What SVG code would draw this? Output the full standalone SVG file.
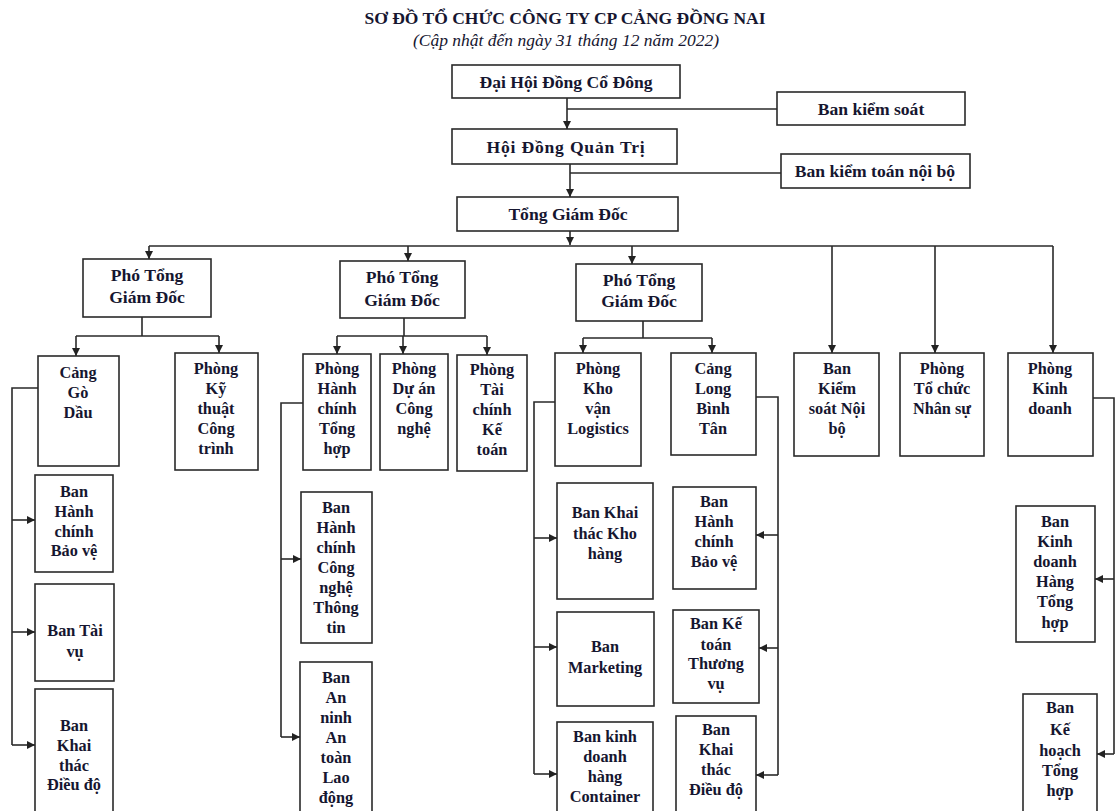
<svg xmlns="http://www.w3.org/2000/svg" width="1115" height="811" viewBox="0 0 1115 811">
<defs>
<marker id="ah" markerUnits="userSpaceOnUse" markerWidth="9" markerHeight="8" refX="8" refY="4" orient="auto">
<path d="M0,0 L8,4 L0,8 Z" fill="#222"/>
</marker>
<style>
.b{fill:#fff;stroke:#2a2a2a;stroke-width:1.6}
.t{font-family:"Liberation Serif","Times New Roman",serif;font-weight:bold;font-size:16.3px;fill:#161630;text-anchor:middle}
.L{font-size:17.6px}
.c{fill:none;stroke:#2a2a2a;stroke-width:1.6}
.a{marker-end:url(#ah)}
</style>
</defs>
<rect width="1115" height="811" fill="#fff"/>
<text x="565" y="24" font-family="Liberation Serif, serif" font-weight="bold" font-size="17.5" fill="#161630" text-anchor="middle">SƠ ĐỒ TỔ CHỨC CÔNG TY CP CẢNG ĐỒNG NAI</text>
<text x="566" y="46" font-family="Liberation Serif, serif" font-style="italic" font-size="17.5" fill="#161630" text-anchor="middle">(Cập nhật đến ngày 31 tháng 12 năm 2022)</text>

<g id="connectors">
<path class="c a" d="M567,98 V129"/>
<path class="c" d="M567,109 H777"/>
<path class="c a" d="M570,164 V197"/>
<path class="c" d="M570,173 H781"/>
<path class="c a" d="M570,231 V245"/>
<path class="c" d="M149,246 H1053"/>
<path class="c a" d="M149,246 V259"/>
<path class="c a" d="M408,246 V261"/>
<path class="c a" d="M632,246 V264"/>
<path class="c a" d="M832,246 V353"/>
<path class="c a" d="M935,246 V353"/>
<path class="c a" d="M1053,246 V353"/>
<path class="c" d="M142,317 V336 M76,336 H219"/>
<path class="c a" d="M76,336 V356"/>
<path class="c a" d="M219,336 V353"/>
<path class="c" d="M404,318 V336 M337,336 H487"/>
<path class="c a" d="M337,336 V354"/>
<path class="c a" d="M403,336 V354"/>
<path class="c a" d="M487,336 V355"/>
<path class="c" d="M643,321 V338 M583,338 H712"/>
<path class="c a" d="M583,338 V353"/>
<path class="c a" d="M712,338 V353"/>
<path class="c" d="M38,388 H12 V745"/>
<path class="c a" d="M12,520 H35"/>
<path class="c a" d="M12,632 H35"/>
<path class="c a" d="M12,745 H35"/>
<path class="c" d="M303,403 H281 V737"/>
<path class="c a" d="M281,559 H301"/>
<path class="c a" d="M281,737 H300"/>
<path class="c" d="M555,402 H534 V774"/>
<path class="c a" d="M534,538 H557"/>
<path class="c a" d="M534,647 H557"/>
<path class="c a" d="M534,774 H557"/>
<path class="c" d="M756,397 H778 V775"/>
<path class="c a" d="M778,535 H756"/>
<path class="c a" d="M778,648 H759"/>
<path class="c a" d="M778,775 H756"/>
<path class="c" d="M1093,398 H1114 V754"/>
<path class="c a" d="M1114,579 H1095"/>
<path class="c a" d="M1114,754 H1097"/>
</g>

<g id="dhdcd"><rect class="b" x="452" y="65" width="228" height="33"/><text class="t L" x="566" y="88">Đại Hội Đồng Cổ Đông</text></g>
<g id="bks"><rect class="b" x="777" y="92" width="188" height="33"/><text class="t L" x="871" y="115">Ban kiểm soát</text></g>
<g id="hdqt"><rect class="b" x="452" y="129" width="225" height="35"/><text class="t L" x="566" y="153" letter-spacing="0.8">Hội Đồng Quản Trị</text></g>
<g id="bktnb"><rect class="b" x="781" y="154" width="189" height="34"/><text class="t L" x="875" y="177">Ban kiểm toán nội bộ</text></g>
<g id="tgd"><rect class="b" x="457" y="197" width="221" height="34"/><text class="t L" x="568" y="220">Tổng Giám Đốc</text></g>

<g id="ptgd1"><rect class="b" x="83" y="259" width="128" height="58"/><text class="t L" x="147" y="281">Phó Tổng</text><text class="t L" x="147" y="303">Giám Đốc</text></g>
<g id="ptgd2"><rect class="b" x="340" y="261" width="125" height="57"/><text class="t L" x="402" y="283">Phó Tổng</text><text class="t L" x="402" y="306">Giám Đốc</text></g>
<g id="ptgd3"><rect class="b" x="576" y="264" width="126" height="57"/><text class="t L" x="639" y="286">Phó Tổng</text><text class="t L" x="639" y="307">Giám Đốc</text></g>

<g id="cang-go-dau"><rect class="b" x="38" y="356" width="81" height="110"/><text class="t" x="78" y="378">Cảng</text><text class="t" x="78" y="398">Gò</text><text class="t" x="78" y="418">Dầu</text></g>
<g id="phong-ky-thuat"><rect class="b" x="175" y="353" width="83" height="117"/><text class="t" x="216" y="374">Phòng</text><text class="t" x="216" y="394">Kỹ</text><text class="t" x="216" y="414">thuật</text><text class="t" x="216" y="434">Công</text><text class="t" x="216" y="454">trình</text></g>
<g id="phong-hcth"><rect class="b" x="303" y="354" width="68" height="116"/><text class="t" x="337" y="374">Phòng</text><text class="t" x="337" y="394">Hành</text><text class="t" x="337" y="414">chính</text><text class="t" x="337" y="434">Tổng</text><text class="t" x="337" y="454">hợp</text></g>
<g id="phong-du-an"><rect class="b" x="380" y="354" width="68" height="116"/><text class="t" x="414" y="374">Phòng</text><text class="t" x="414" y="394">Dự án</text><text class="t" x="414" y="414">Công</text><text class="t" x="414" y="434">nghệ</text></g>
<g id="phong-tckt"><rect class="b" x="457" y="355" width="70" height="116"/><text class="t" x="492" y="375">Phòng</text><text class="t" x="492" y="395">Tài</text><text class="t" x="492" y="415">chính</text><text class="t" x="492" y="435">Kế</text><text class="t" x="492" y="455">toán</text></g>
<g id="phong-kho-van"><rect class="b" x="555" y="353" width="86" height="113"/><text class="t" x="598" y="374">Phòng</text><text class="t" x="598" y="394">Kho</text><text class="t" x="598" y="414">vận</text><text class="t" x="598" y="434">Logistics</text></g>
<g id="cang-lbt"><rect class="b" x="671" y="353" width="85" height="102"/><text class="t" x="713" y="374">Cảng</text><text class="t" x="713" y="394">Long</text><text class="t" x="713" y="414">Bình</text><text class="t" x="713" y="434">Tân</text></g>
<g id="ban-ksnb"><rect class="b" x="794" y="353" width="85" height="103"/><text class="t" x="837" y="374">Ban</text><text class="t" x="837" y="394">Kiểm</text><text class="t" x="837" y="414">soát Nội</text><text class="t" x="837" y="434">bộ</text></g>
<g id="phong-tcns"><rect class="b" x="900" y="353" width="84" height="103"/><text class="t" x="942" y="374">Phòng</text><text class="t" x="942" y="394">Tổ chức</text><text class="t" x="942" y="414">Nhân sự</text></g>
<g id="phong-kd"><rect class="b" x="1008" y="353" width="85" height="103"/><text class="t" x="1050" y="374">Phòng</text><text class="t" x="1050" y="394">Kinh</text><text class="t" x="1050" y="414">doanh</text></g>

<g id="ban-hcbv-1"><rect class="b" x="35" y="475" width="78" height="97"/><text class="t" x="74" y="497">Ban</text><text class="t" x="74" y="517">Hành</text><text class="t" x="74" y="537">chính</text><text class="t" x="74" y="556">Bảo vệ</text></g>
<g id="ban-tai-vu"><rect class="b" x="35" y="584" width="79" height="97"/><text class="t" x="75" y="636">Ban Tài</text><text class="t" x="75" y="657">vụ</text></g>
<g id="ban-ktdd-1"><rect class="b" x="35" y="689" width="78" height="130"/><text class="t" x="74" y="731">Ban</text><text class="t" x="74" y="751">Khai</text><text class="t" x="74" y="771">thác</text><text class="t" x="74" y="790">Điều độ</text></g>

<g id="ban-hc-cntt"><rect class="b" x="301" y="492" width="71" height="151"/><text class="t" x="336" y="513">Ban</text><text class="t" x="336" y="533">Hành</text><text class="t" x="336" y="553">chính</text><text class="t" x="336" y="573">Công</text><text class="t" x="336" y="593">nghệ</text><text class="t" x="336" y="613">Thông</text><text class="t" x="336" y="633">tin</text></g>
<g id="ban-an-ninh"><rect class="b" x="300" y="662" width="72" height="160"/><text class="t" x="336" y="683">Ban</text><text class="t" x="336" y="703">An</text><text class="t" x="336" y="723">ninh</text><text class="t" x="336" y="743">An</text><text class="t" x="336" y="763">toàn</text><text class="t" x="336" y="783">Lao</text><text class="t" x="336" y="803">động</text></g>

<g id="ban-kt-kho-hang"><rect class="b" x="557" y="483" width="96" height="116"/><text class="t" x="605" y="518">Ban Khai</text><text class="t" x="605" y="539">thác Kho</text><text class="t" x="605" y="559">hàng</text></g>
<g id="ban-marketing"><rect class="b" x="557" y="612" width="97" height="94"/><text class="t" x="605" y="652">Ban</text><text class="t" x="605" y="673">Marketing</text></g>
<g id="ban-kd-container"><rect class="b" x="557" y="722" width="96" height="100"/><text class="t" x="605" y="742">Ban kinh</text><text class="t" x="605" y="762">doanh</text><text class="t" x="605" y="782">hàng</text><text class="t" x="605" y="802">Container</text></g>

<g id="ban-hcbv-2"><rect class="b" x="673" y="487" width="83" height="102"/><text class="t" x="714" y="507">Ban</text><text class="t" x="714" y="527">Hành</text><text class="t" x="714" y="547">chính</text><text class="t" x="714" y="567">Bảo vệ</text></g>
<g id="ban-kt-thuong-vu"><rect class="b" x="673" y="610" width="86" height="93"/><text class="t" x="716" y="629">Ban Kế</text><text class="t" x="716" y="650">toán</text><text class="t" x="716" y="669">Thương</text><text class="t" x="716" y="689">vụ</text></g>
<g id="ban-ktdd-2"><rect class="b" x="676" y="716" width="80" height="110"/><text class="t" x="716" y="735">Ban</text><text class="t" x="716" y="755">Khai</text><text class="t" x="716" y="775">thác</text><text class="t" x="716" y="795">Điều độ</text></g>

<g id="ban-kd-hang-th"><rect class="b" x="1016" y="506" width="79" height="136"/><text class="t" x="1055" y="527">Ban</text><text class="t" x="1055" y="547">Kinh</text><text class="t" x="1055" y="567">doanh</text><text class="t" x="1055" y="587">Hàng</text><text class="t" x="1055" y="607">Tổng</text><text class="t" x="1055" y="628">hợp</text></g>
<g id="ban-ke-hoach-th"><rect class="b" x="1023" y="694" width="74" height="130"/><text class="t" x="1060" y="713">Ban</text><text class="t" x="1060" y="735">Kế</text><text class="t" x="1060" y="756">hoạch</text><text class="t" x="1060" y="776">Tổng</text><text class="t" x="1060" y="796">hợp</text></g>
</svg>
